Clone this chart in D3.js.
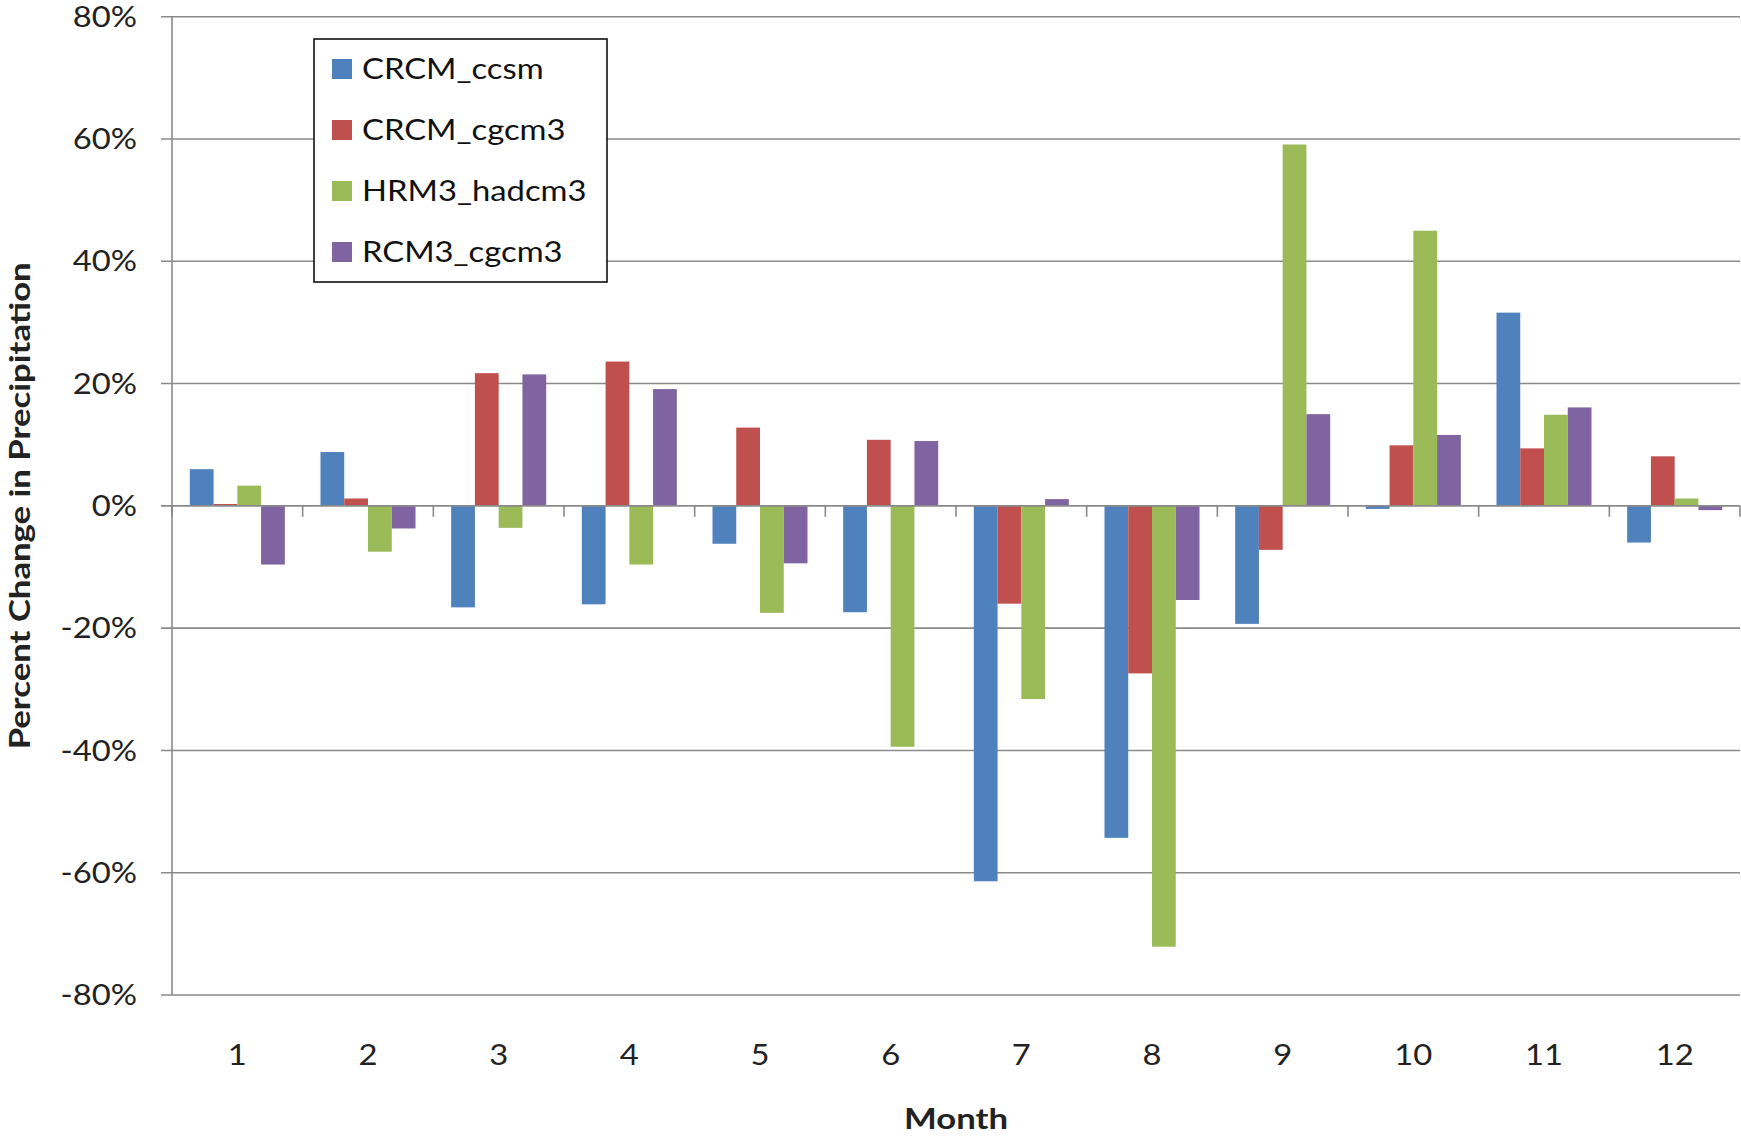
<!DOCTYPE html>
<html>
<head>
<meta charset="utf-8">
<script src="https://cdn.jsdelivr.net/npm/d3@7"></script>
<style>
  body { margin: 0; background: #fff; }
  svg { display: block; }
  text { font-family: Lato, "Open Sans", sans-serif; }
</style>
</head>
<body>
<script>
// Monthly percent change in precipitation for four regional climate model runs
const months = ["1", "2", "3", "4", "5", "6", "7", "8", "9", "10", "11", "12"];
const seriesNames = ["CRCM_ccsm", "CRCM_cgcm3", "HRM3_hadcm3", "RCM3_cgcm3"];
const crcmCcsm   = [6.0, 8.8, -16.6, -16.1, -6.2, -17.4, -61.4, -54.3, -19.3, -0.5, 31.6, -6.0];
const crcmCgcm3  = [0.3, 1.2, 21.7, 23.6, 12.8, 10.8, -16.0, -27.4, -7.2, 9.9, 9.4, 8.1];
const hrm3Hadcm3 = [3.3, -7.5, -3.6, -9.6, -17.5, -39.4, -31.6, -72.1, 59.1, 45.0, 14.9, 1.2];
const rcm3Cgcm3  = [-9.6, -3.7, 21.5, 19.1, -9.4, 10.6, 1.1, -15.4, 15.0, 11.6, 16.1, -0.7];
const yTickValues = [-80, -60, -40, -20, 0, 20, 40, 60, 80];
const seriesColors = ["#4F81BD", "#C0504D", "#9BBB59", "#8064A2"];

const seriesValues = [crcmCcsm, crcmCgcm3, hrm3Hadcm3, rcm3Cgcm3];

const W = 1741, H = 1139;
const plot = { left: 172, right: 1740, top: 16.7, bottom: 995 };
const gridColor = "#8a8a8a";
const labelColor = "#222";
const fontSize = 28;
// Wide glyphs: stretch text along its own direction
const widen = 1.17, widenBold = 1.24;

const svg = d3.select("body").append("svg")
  .attr("width", W).attr("height", H)
  .attr("viewBox", `0 0 ${W} ${H}`);

const x0 = d3.scaleBand().domain(months)
  .range([plot.left, plot.right]).paddingInner(0).paddingOuter(0);
// Clustered columns with 150% gap width: band = 4 bars + 1.5 bars of gap
const barW = x0.bandwidth() / 5.5;
const x1 = d3.scaleBand().domain(seriesNames)
  .range([0.75 * barW, 4.75 * barW]).padding(0);

const y = d3.scaleLinear().domain([-80, 80]).range([plot.bottom, plot.top]);

// Horizontal gridlines with short outward ticks
svg.append("g").selectAll("line")
  .data(yTickValues.filter(d => d !== 0))
  .join("line")
  .attr("x1", plot.left - 11).attr("x2", plot.right)
  .attr("y1", d => y(d)).attr("y2", d => y(d))
  .attr("stroke", gridColor).attr("stroke-width", 1.6);

// Vertical value axis
svg.append("line")
  .attr("x1", plot.left).attr("x2", plot.left)
  .attr("y1", y(80)).attr("y2", y(-80))
  .attr("stroke", gridColor).attr("stroke-width", 1.6);

// Value axis labels
svg.append("g").selectAll("text")
  .data(yTickValues)
  .join("text")
  .attr("transform", d => `translate(137, ${y(d)}) scale(${widen},1)`)
  .attr("dy", "0.36em")
  .attr("text-anchor", "end")
  .attr("font-size", fontSize)
  .attr("fill", labelColor)
  .text(d => d + "%");

// Bars
const groups = svg.append("g").selectAll("g")
  .data(months)
  .join("g")
  .attr("transform", d => `translate(${x0(d)},0)`);

groups.selectAll("rect")
  .data((m, i) => seriesNames.map((s, k) => ({ s, k, v: seriesValues[k][i] })))
  .join("rect")
  .attr("x", d => x1(d.s))
  .attr("width", x1.bandwidth())
  .attr("y", d => y(Math.max(0, d.v)))
  .attr("height", d => Math.abs(y(d.v) - y(0)))
  .attr("fill", d => seriesColors[d.k]);

// Category axis along zero, with tick marks between months
svg.append("line")
  .attr("x1", plot.left - 11).attr("x2", plot.right)
  .attr("y1", y(0)).attr("y2", y(0))
  .attr("stroke", gridColor).attr("stroke-width", 1.6);

const boundaries = months.map(m => x0(m)).concat([plot.right]);
svg.append("g").selectAll("line")
  .data(boundaries)
  .join("line")
  .attr("x1", d => d).attr("x2", d => d)
  .attr("y1", y(0)).attr("y2", y(0) + 11)
  .attr("stroke", gridColor).attr("stroke-width", 1.6);

// Month labels
svg.append("g").selectAll("text")
  .data(months)
  .join("text")
  .attr("transform", d => `translate(${x0(d) + x0.bandwidth() / 2}, 1055) scale(${widen},1)`)
  .attr("dy", "0.36em")
  .attr("text-anchor", "middle")
  .attr("font-size", fontSize)
  .attr("fill", labelColor)
  .text(d => d);

// Axis titles
svg.append("text")
  .attr("transform", `translate(${(plot.left + plot.right) / 2}, 1119) scale(${widenBold},1)`)
  .attr("dy", "0.36em")
  .attr("text-anchor", "middle")
  .attr("font-size", fontSize)
  .attr("font-weight", "bold")
  .attr("fill", labelColor)
  .text("Month");

svg.append("text")
  .attr("transform", `translate(20, ${(plot.top + plot.bottom) / 2}) rotate(-90) scale(${widenBold},1)`)
  .attr("dy", "0.36em")
  .attr("text-anchor", "middle")
  .attr("font-size", fontSize)
  .attr("font-weight", "bold")
  .attr("fill", labelColor)
  .text("Percent Change in Precipitation");

// Legend
const legend = svg.append("g").attr("transform", "translate(314,39)");
legend.append("rect")
  .attr("x", 0).attr("y", 0)
  .attr("width", 293).attr("height", 243)
  .attr("fill", "#fff")
  .attr("stroke", "#111").attr("stroke-width", 1.6);

const items = legend.selectAll("g.item")
  .data(seriesNames)
  .join("g")
  .attr("class", "item")
  .attr("transform", (d, i) => `translate(0, ${30 + i * 61})`);

items.append("rect")
  .attr("x", 18).attr("y", -10)
  .attr("width", 20).attr("height", 20)
  .attr("fill", (d, i) => seriesColors[i]);

items.append("text")
  .attr("transform", `translate(48,0) scale(${widen},1)`)
  .attr("dy", "0.36em")
  .attr("font-size", fontSize)
  .attr("fill", "#111")
  .text(d => d);
</script>
</body>
</html>
